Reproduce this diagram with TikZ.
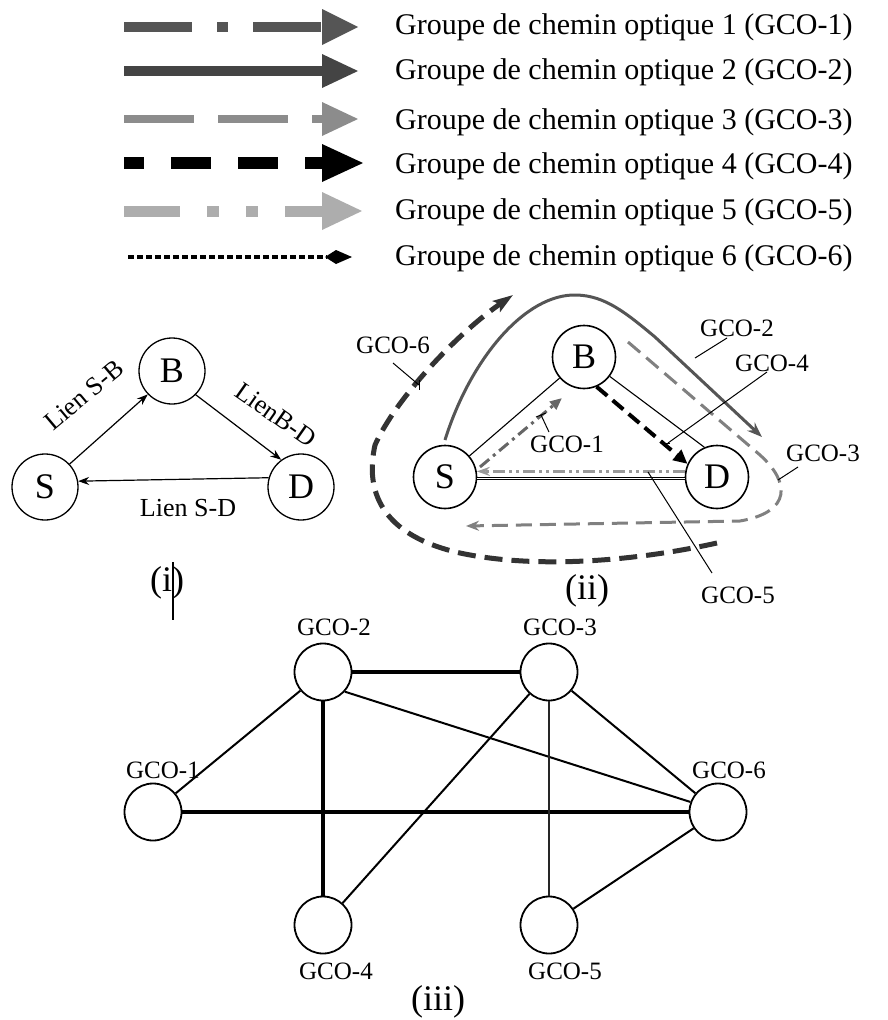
\documentclass[tikz,border=0pt]{standalone}
\usepackage{fontspec}
\setmainfont{Liberation Serif}
\usetikzlibrary{arrows.meta}
\definecolor{cA}{HTML}{555555}
\definecolor{cB}{HTML}{444444}
\definecolor{cC}{HTML}{8C8C8C}
\definecolor{cE}{HTML}{ADADAD}
\definecolor{cG}{HTML}{333333}
\definecolor{cH}{HTML}{666666}
\definecolor{cI}{HTML}{999999}
\definecolor{cJ}{HTML}{808080}
\begin{document}
\begin{tikzpicture}[x=1pt,y=-1pt,
  legtext/.style={anchor=west,font=\fontsize{30}{36}\selectfont,inner sep=0},
  bignode/.style={circle,draw,line width=1.3pt,minimum size=66pt,inner sep=0,font=\fontsize{36}{40}\selectfont},
  midnode/.style={circle,draw,line width=1.6pt,minimum size=63pt,inner sep=0,font=\fontsize{36}{40}\selectfont},
  gnode/.style={circle,draw,line width=1.8pt,minimum size=57pt,inner sep=0},
  lbl/.style={font=\fontsize{25}{30}\selectfont,inner sep=0},
  lnk/.style={font=\fontsize{26}{30}\selectfont,inner sep=0},
  capt/.style={font=\fontsize{36}{40}\selectfont,inner sep=0},
  link/.style={line width=1.2pt,-{Stealth[length=11pt,width=8pt]}},
  leader/.style={line width=1pt},
  thickedge/.style={line width=3.2pt},
  thinedge/.style={line width=2pt},
]
\useasboundingbox (0,0) rectangle (888,1020);

% ---------------- legend ----------------
\coordinate (a1s) at (124,27);  \coordinate (a1e) at (322,27);
\coordinate (a2s) at (124,71);  \coordinate (a2e) at (322,71);
\coordinate (a3s) at (124,119); \coordinate (a3e) at (322,119);
\coordinate (a4s) at (124,163); \coordinate (a4e) at (323,163);
\coordinate (a5s) at (124,211); \coordinate (a5e) at (323,211);
\coordinate (a6s) at (128,257); \coordinate (a6e) at (327,257);

\draw[line width=10pt,cA,dash pattern=on 68pt off 25pt on 11pt off 25pt] (a1s) -- (a1e);
\fill[cA] (322,9) -- (358,27) -- (322,45) -- cycle;
\draw[line width=10pt,cB] (a2s) -- (a2e);
\fill[cB] (322,54) -- (358,71) -- (322,88) -- cycle;
\draw[line width=8pt,cC,dash pattern=on 70pt off 24pt] (a3s) -- (a3e);
\fill[cC] (322,102) -- (358,119) -- (322,136) -- cycle;
\draw[line width=12pt,black,dash pattern=on 40pt off 27pt,dash phase=20pt] (a4s) -- (a4e);
\fill[black] (322,144) -- (363,163) -- (322,182) -- cycle;
\draw[line width=11pt,cE,dash pattern=on 56pt off 27pt on 12pt off 27pt on 12pt off 27pt] (a5s) -- (a5e);
\fill[cE] (322,192) -- (362,211) -- (322,230) -- cycle;
\draw[line width=4pt,black,dash pattern=on 6pt off 3pt] (a6s) -- (a6e);
\fill[black] (352,257) -- (336,250) -- (325,257) -- (336,264) -- cycle;

\node[legtext] (t1) at (395,27)  {Groupe de chemin optique 1 (GCO-1)};
\node[legtext] (t2) at (395,72)  {Groupe de chemin optique 2 (GCO-2)};
\node[legtext] (t3) at (395,122) {Groupe de chemin optique 3 (GCO-3)};
\node[legtext] (t4) at (395,166) {Groupe de chemin optique 4 (GCO-4)};
\node[legtext] (t5) at (395,212) {Groupe de chemin optique 5 (GCO-5)};
\node[legtext] (t6) at (395,258) {Groupe de chemin optique 6 (GCO-6)};

% ---------------- (i) ----------------
\node[bignode] (S1) at (45,487) {S};
\node[bignode] (B1) at (172,371) {B};
\node[bignode] (D1) at (301,487) {D};
\draw[link] (S1.43) -- (B1.224);
\draw[link] (B1.-45) -- (D1.126);
\draw[link] (D1.164) -- (S1.10);
\node[lnk,rotate=40] (l1) at (84,395) {Lien S-B};
\node[lnk,rotate=-35] (l2) at (276,415) {LienB-D};
\node[lnk] (l3) at (188,508) {Lien S-D};
\node[capt] (c1) at (167,583) {(i)};
\coordinate (cur1) at (173,562); \coordinate (cur2) at (173,620);
\draw[line width=1.2pt] (cur1) -- (cur2);

% ---------------- (ii) ----------------
\node[midnode] (S2) at (445,477) {S};
\node[midnode] (B2) at (584,357) {B};
\node[midnode] (D2) at (717,477) {D};
\draw[line width=1.1pt] (S2) -- (B2);
\draw[line width=1.1pt] (B2.-37) -- (D2.113);
\draw[line width=0.8pt,double,double distance=1.3pt] (S2.-3) -- (D2.183);

% GCO-1
\coordinate (g1s) at (480,467); \coordinate (g1e) at (562,398);
\draw[cH,line width=3pt,dash pattern=on 12pt off 5pt on 3pt off 5pt,-{Triangle[length=12pt,width=10pt]}] (g1s) -- (g1e);
% GCO-4
\draw[black,line width=4pt,dash pattern=on 14pt off 7pt,-{Triangle[length=14pt,width=13pt]}] (B2.-67) -- (D2.156);
% GCO-5
\draw[cI,line width=3pt,dash pattern=on 12pt off 4pt on 3pt off 4pt on 3pt off 4pt,-{Stealth[length=13pt,width=9pt]}] (D2.170) -- (S2.10);
% GCO-2
\coordinate (g2s) at (445,440);
\coordinate (g2e) at (762,437);
\draw[cA,line width=3pt,-{Stealth[length=15pt,width=11pt]}] (g2s) .. controls (470,360) and (525,293) .. (577,295) .. controls (605,296) and (625,312) .. (655,337) -- (g2e);
% GCO-3
\coordinate (g3s) at (628,342);
\coordinate (g3e) at (466,526);
\draw[cJ,line width=3pt,dash pattern=on 16pt off 8pt,-{Stealth[length=13pt,width=10pt]}] (g3s) -- (760,455) .. controls (790,482) and (792,512) .. (740,521) -- (g3e);
% GCO-6
\coordinate (g6s) at (717,543);
\coordinate (g6e) at (513,295);
\draw[cG,line width=5pt,dash pattern=on 18pt off 9pt,-{Stealth[length=20pt,width=13pt,inset=4pt]}] (g6s) .. controls (640,560) and (540,570) .. (460,553) .. controls (380,535) and (365,490) .. (375,445) .. controls (395,400) and (455,335) .. (g6e);

% labels (ii)
\node[lbl] (n6) at (393,345) {GCO-6};
\coordinate (p6a) at (393,363); \coordinate (p6b) at (419,385);
\draw[leader] (p6a) -- (p6b); \draw[leader] (419,380) -- (419,390);
\node[lbl] (n1) at (567,444) {GCO-1};
\coordinate (p1a) at (549,432); \coordinate (p1b) at (541,415);
\draw[leader] (p1a) -- (p1b); \draw[leader] (536,417) -- (546,413);
\node[lbl] (n2) at (737,328) {GCO-2};
\coordinate (p2a) at (727,338); \coordinate (p2b) at (695,358);
\draw[leader] (p2a) -- (p2b);
\node[lbl] (n4) at (772,363) {GCO-4};
\coordinate (p4a) at (767,372); \coordinate (p4b) at (668,443);
\draw[leader] (p4a) -- (p4b); \draw[leader] (663,443) -- (670,443);
\node[lbl] (n3) at (823,453) {GCO-3};
\coordinate (p3a) at (798,467); \coordinate (p3b) at (778,480);
\draw[leader] (p3a) -- (p3b);
\node[lbl] (n5) at (738,595) {GCO-5};
\coordinate (p5a) at (712,573); \coordinate (p5b) at (648,472);
\draw[leader] (p5a) -- (p5b);
\node[capt] (c2) at (587,591) {(ii)};

% ---------------- (iii) ----------------
\node[gnode] (G1) at (153,812) {};
\node[gnode] (G2) at (323,672) {};
\node[gnode] (G3) at (549,672) {};
\node[gnode] (G4) at (323,925) {};
\node[gnode] (G5) at (549,925) {};
\node[gnode] (G6) at (718,812) {};
\node[lbl] (L1) at (163,770) {GCO-1};
\node[lbl] (L2) at (334,627) {GCO-2};
\node[lbl] (L3) at (560,627) {GCO-3};
\node[lbl] (L4) at (336,971) {GCO-4};
\node[lbl] (L5) at (565,971) {GCO-5};
\node[lbl] (L6) at (729,770) {GCO-6};
\draw[thickedge] (G2) -- (G3);
\draw[thickedge] (G1) -- (G6);
\draw[thickedge] (G2) -- (G4);
\draw[thinedge] (G2) -- (G1);
\draw[thinedge] (G2.-42) -- (G6.160);
\draw[thinedge] (G3) -- (G4);
\draw[line width=1.7pt,black!85] (G3) -- (G5);
\draw[thinedge] (G3) -- (G6);
\draw[thinedge] (G6) -- (G5);
\node[capt] (c3) at (438,1002) {(iii)};
\end{tikzpicture}
\end{document}
